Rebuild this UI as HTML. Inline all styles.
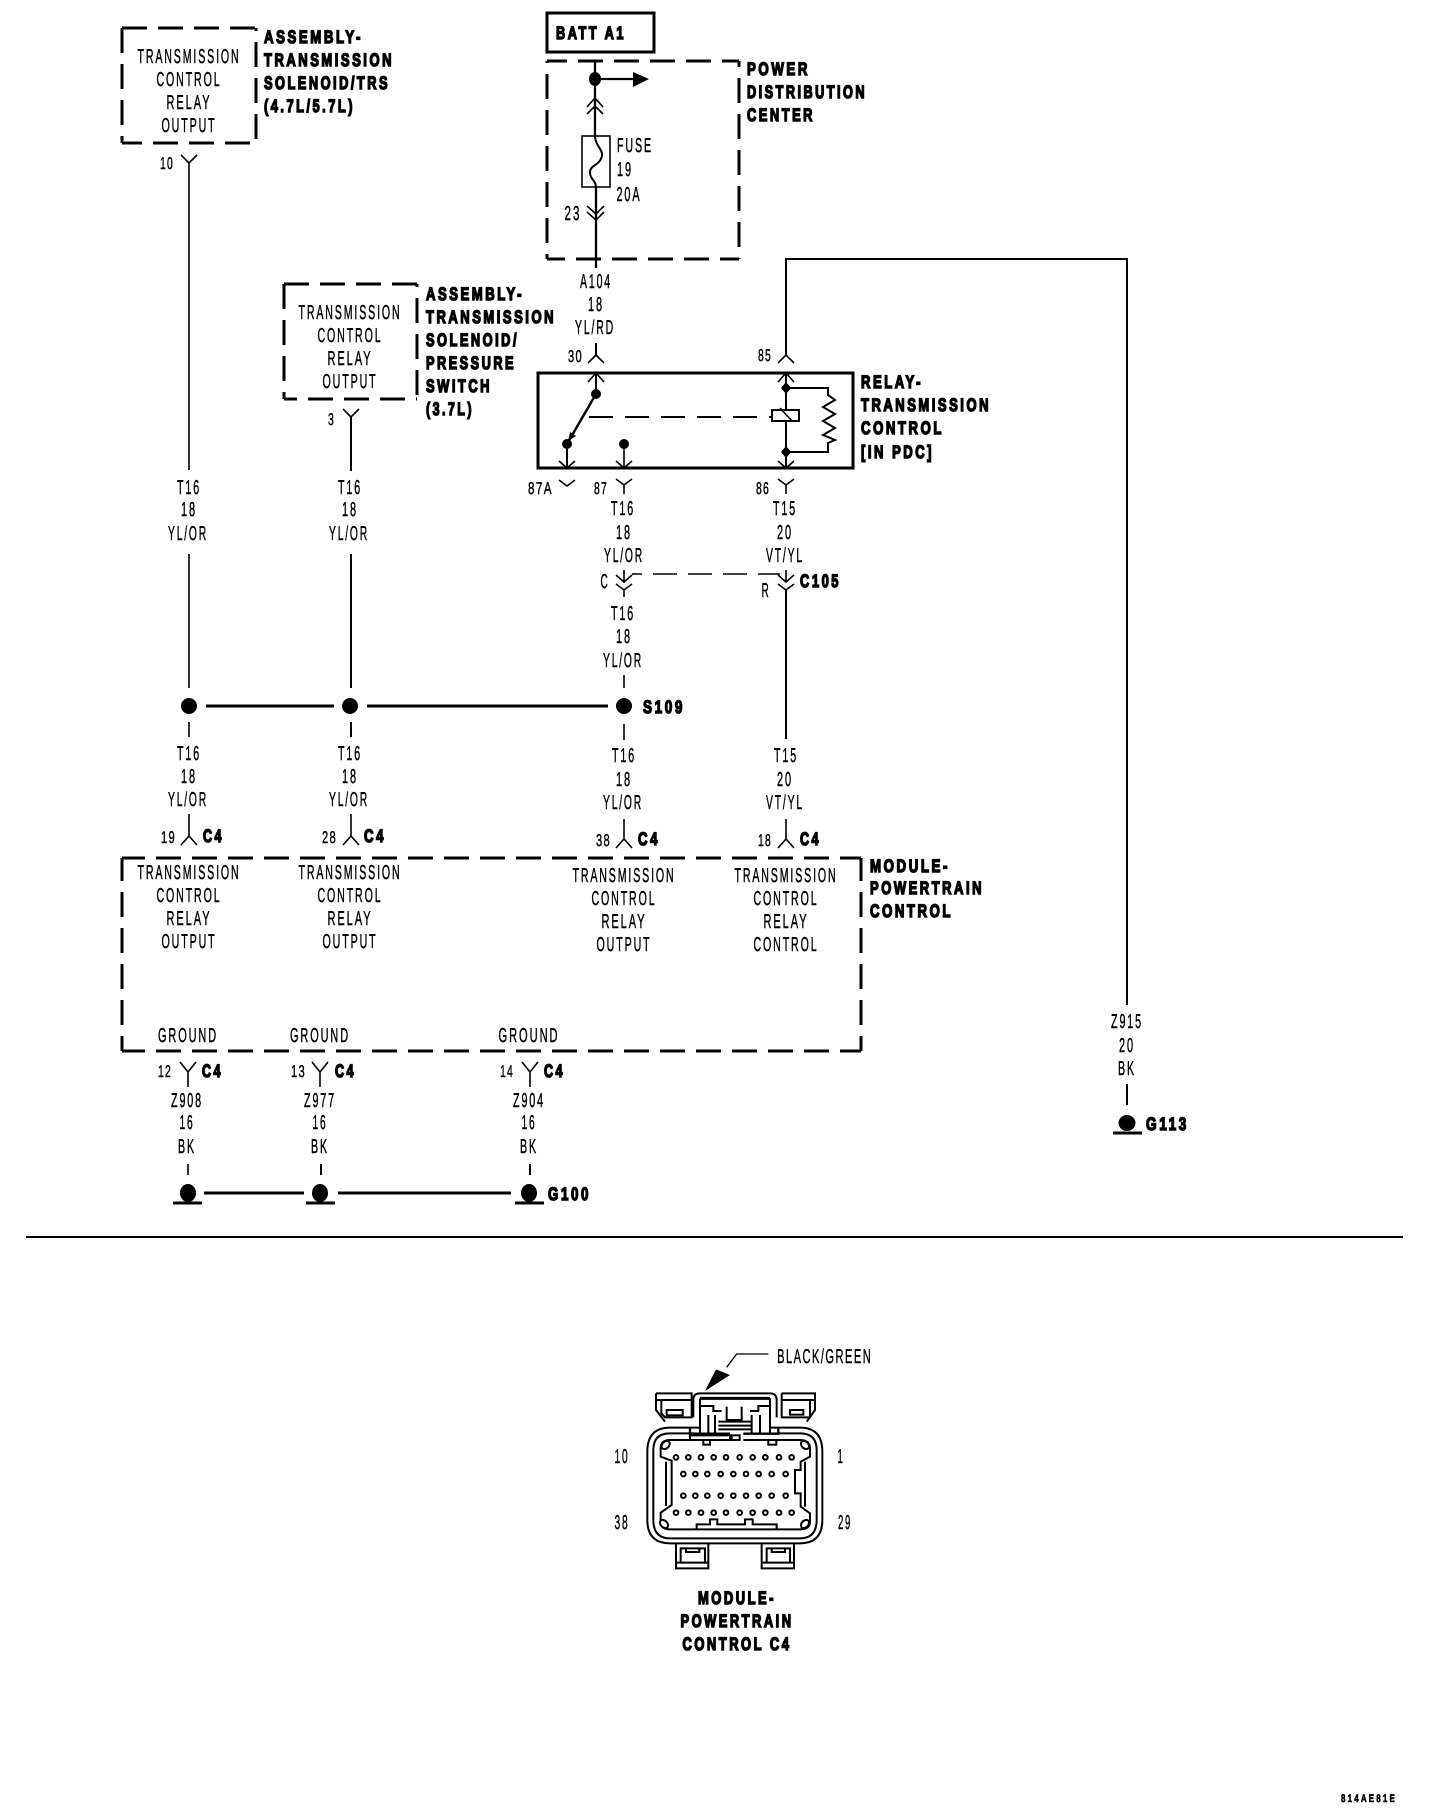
<!DOCTYPE html>
<html><head><meta charset="utf-8"><style>
html,body{margin:0;padding:0;background:#fff}
svg{display:block}
text{font-family:"Liberation Sans",sans-serif;fill:#000;text-rendering:geometricPrecision}
.t{font-size:20px;text-anchor:middle;stroke:#000;stroke-width:.45;letter-spacing:3.5px;transform:translateX(1px)}
.s{font-size:17px;text-anchor:start;stroke:#000;stroke-width:.45;letter-spacing:2px}
.b{font-size:18px;font-weight:bold;stroke:#000;stroke-width:1.5;letter-spacing:3.5px}
.w{fill:none;stroke:#000;stroke-width:2}
.k{fill:none;stroke:#000;stroke-width:3}
.d{fill:none;stroke:#000;stroke-width:3;stroke-dasharray:25 11}
.c{fill:none;stroke:#000;stroke-width:1.6}
.p{fill:none;stroke:#000;stroke-width:6}
.f{fill:#000}
</style></head><body>
<svg width="1456" height="1810" viewBox="0 0 1456 1810" xmlns="http://www.w3.org/2000/svg">
<rect width="1456" height="1810" fill="#fff"/>

<!-- dashed boxes -->
<g>
<path class="d" d="M122 28H256"/><path class="d" d="M122 28V143"/><path class="d" style="stroke-dashoffset:22" d="M256 28V143"/><path class="d" style="stroke-dashoffset:5" d="M122 143H256"/>
<path class="d" d="M284 284H417"/><path class="d" d="M284 284V399"/><path class="d" style="stroke-dashoffset:22" d="M417 284V399"/><path class="d" style="stroke-dashoffset:12" d="M284 399H417"/>
<path class="d" style="stroke-dashoffset:5" d="M547 61H739"/><path class="d" style="stroke-dashoffset:23" d="M547 61V259"/><path class="d" style="stroke-dashoffset:19" d="M739 61V259"/><path class="d" style="stroke-dashoffset:7" d="M547 259H739"/>
<path class="d" style="stroke-dashoffset:2" d="M122 858H861"/><path class="d" style="stroke-dashoffset:2" d="M122 858V1051"/><path class="d" style="stroke-dashoffset:2" d="M861 858V1051"/><path class="d" style="stroke-dashoffset:2" d="M122 1051H861"/>
</g>

<!-- BATT -->
<rect class="k" x="547" y="13" width="107" height="39"/>
<text class="b" x="556" y="39" textLength="70" lengthAdjust="spacingAndGlyphs">BATT A1</text>

<!-- Box 1 text -->
<text class="t" x="188" y="63" textLength="103" lengthAdjust="spacingAndGlyphs">TRANSMISSION</text>
<text class="t" x="188" y="86" textLength="65" lengthAdjust="spacingAndGlyphs">CONTROL</text>
<text class="t" x="188" y="109" textLength="45" lengthAdjust="spacingAndGlyphs">RELAY</text>
<text class="t" x="188" y="132" textLength="55" lengthAdjust="spacingAndGlyphs">OUTPUT</text>
<text class="b" x="264" y="43" textLength="99" lengthAdjust="spacingAndGlyphs">ASSEMBLY-</text>
<text class="b" x="264" y="66" textLength="130" lengthAdjust="spacingAndGlyphs">TRANSMISSION</text>
<text class="b" x="264" y="89" textLength="126" lengthAdjust="spacingAndGlyphs">SOLENOID/TRS</text>
<text class="b" x="264" y="112" textLength="91" lengthAdjust="spacingAndGlyphs">(4.7L/5.7L)</text>

<!-- Box 2 text -->
<text class="t" x="349" y="319" textLength="103" lengthAdjust="spacingAndGlyphs">TRANSMISSION</text>
<text class="t" x="349" y="342" textLength="65" lengthAdjust="spacingAndGlyphs">CONTROL</text>
<text class="t" x="349" y="365" textLength="45" lengthAdjust="spacingAndGlyphs">RELAY</text>
<text class="t" x="349" y="388" textLength="55" lengthAdjust="spacingAndGlyphs">OUTPUT</text>
<text class="b" x="426" y="300" textLength="98" lengthAdjust="spacingAndGlyphs">ASSEMBLY-</text>
<text class="b" x="426" y="323" textLength="130" lengthAdjust="spacingAndGlyphs">TRANSMISSION</text>
<text class="b" x="426" y="346" textLength="93" lengthAdjust="spacingAndGlyphs">SOLENOID/</text>
<text class="b" x="426" y="369" textLength="90" lengthAdjust="spacingAndGlyphs">PRESSURE</text>
<text class="b" x="426" y="392" textLength="66" lengthAdjust="spacingAndGlyphs">SWITCH</text>
<text class="b" x="426" y="415" textLength="48" lengthAdjust="spacingAndGlyphs">(3.7L)</text>

<!-- PDC -->
<text class="b" x="747" y="75" textLength="63" lengthAdjust="spacingAndGlyphs">POWER</text>
<text class="b" x="747" y="98" textLength="120" lengthAdjust="spacingAndGlyphs">DISTRIBUTION</text>
<text class="b" x="747" y="121" textLength="68" lengthAdjust="spacingAndGlyphs">CENTER</text>
<path class="k" d="M595 61V136M596 187V268M595 79H635" style="stroke-width:2.3"/>
<ellipse class="f" cx="595" cy="79" rx="6" ry="7"/>
<polygon class="f" points="633,72 649,79 633,87"/>
<polyline class="c" points="587,107 595,98 603,107"/>
<polyline class="c" points="587,114 595,106 603,114"/>
<rect x="582" y="136" width="28" height="51" fill="#fff" stroke="#000" stroke-width="1.6"/>
<path class="w" d="M595 136C595 145 603 150 602 155C601 165 590 165 590 172C590 180 596 180 596 187"/>
<polyline class="c" points="587,206 596,214 604,206"/>
<polyline class="c" points="587,212 596,220 604,212"/>
<text class="t" x="634" y="152" textLength="36" lengthAdjust="spacingAndGlyphs">FUSE</text>
<text class="t" x="624" y="176" textLength="16" lengthAdjust="spacingAndGlyphs">19</text>
<text class="t" x="628" y="201" textLength="25" lengthAdjust="spacingAndGlyphs">20A</text>
<text class="t" x="572" y="220" textLength="17" lengthAdjust="spacingAndGlyphs">23</text>
<text class="t" x="595" y="288" textLength="32" lengthAdjust="spacingAndGlyphs">A104</text>
<text class="t" x="595" y="311" textLength="16" lengthAdjust="spacingAndGlyphs">18</text>
<text class="t" x="594" y="334" textLength="40" lengthAdjust="spacingAndGlyphs">YL/RD</text>

<!-- wire 85 / G113 -->
<path class="w" d="M786 355V259H1127V1005M1127 1084V1105"/>
<text class="t" x="1126" y="1028" textLength="32" lengthAdjust="spacingAndGlyphs">Z915</text>
<text class="t" x="1126" y="1052" textLength="16" lengthAdjust="spacingAndGlyphs">20</text>
<text class="t" x="1126" y="1075" textLength="18" lengthAdjust="spacingAndGlyphs">BK</text>
<ellipse class="f" cx="1127" cy="1123" rx="8.5" ry="8"/>
<path class="k" d="M1113 1133H1142"/>
<text class="b" x="1146" y="1130" textLength="43" lengthAdjust="spacingAndGlyphs">G113</text>

<!-- relay -->
<path class="w" d="M596 343V355"/>
<polyline class="c" points="588,363 596,355 604,363"/>
<polyline class="c" points="778,363 786,355 794,363"/>
<text class="s" x="568" y="362" textLength="15" lengthAdjust="spacingAndGlyphs">30</text>
<text class="s" x="758" y="361" textLength="14" lengthAdjust="spacingAndGlyphs">85</text>
<rect class="k" x="538" y="373" width="315" height="95"/>
<path class="w" d="M596 373V394"/>
<polyline class="c" points="588,382 596,373 604,382"/>
<circle class="f" cx="596" cy="394" r="5"/>
<path class="k" style="stroke-width:2.4" d="M596 394L567 444"/>
<polygon class="f" points="568,441 570,432 576,436"/>
<circle class="f" cx="567" cy="444" r="5"/>
<path class="w" d="M567 444V468"/>
<polyline class="c" points="559,461 567,468 575,461"/>
<circle class="f" cx="624" cy="444" r="5"/>
<path class="c" d="M624 444V468"/>
<polyline class="c" points="616,461 624,468 632,461"/>
<path class="w" d="M583 417H772" stroke-dasharray="24 12" stroke-dashoffset="-6"/>
<path class="w" d="M786 373V468M786 388H828V395L835 400L823 407L835 414L823 421L835 428L823 435L835 440L828 443V452H786"/>
<polyline class="c" points="778,382 786,373 794,382"/>
<polyline class="c" points="778,461 786,468 794,461"/>
<polygon class="f" points="786,382 791,388 786,394 781,388"/>
<polygon class="f" points="786,446 791,452 786,458 781,452"/>
<rect x="772" y="410" width="27" height="11" fill="#fff" stroke="#000" stroke-width="2"/>
<path class="c" d="M780 408L792 421"/>
<text class="b" x="861" y="388" textLength="62" lengthAdjust="spacingAndGlyphs">RELAY-</text>
<text class="b" x="861" y="411" textLength="130" lengthAdjust="spacingAndGlyphs">TRANSMISSION</text>
<text class="b" x="861" y="434" textLength="83" lengthAdjust="spacingAndGlyphs">CONTROL</text>
<text class="b" x="861" y="458" textLength="73" lengthAdjust="spacingAndGlyphs">[IN PDC]</text>

<!-- below relay -->
<polyline class="c" points="559,480 567,486 575,480"/>
<polyline class="c" points="616,479 624,485 632,479"/>
<path class="c" d="M624 485V494"/>
<polyline class="c" points="778,479 786,485 794,479"/>
<path class="c" d="M786 485V494"/>
<text class="s" x="528" y="494" textLength="25" lengthAdjust="spacingAndGlyphs">87A</text>
<text class="s" x="594" y="494" textLength="14" lengthAdjust="spacingAndGlyphs">87</text>
<text class="s" x="756" y="494" textLength="14" lengthAdjust="spacingAndGlyphs">86</text>
<text class="t" x="622" y="515" textLength="24" lengthAdjust="spacingAndGlyphs">T16</text>
<text class="t" x="623" y="539" textLength="16" lengthAdjust="spacingAndGlyphs">18</text>
<text class="t" x="623" y="562" textLength="40" lengthAdjust="spacingAndGlyphs">YL/OR</text>
<text class="t" x="784" y="515" textLength="24" lengthAdjust="spacingAndGlyphs">T15</text>
<text class="t" x="784" y="539" textLength="16" lengthAdjust="spacingAndGlyphs">20</text>
<text class="t" x="784" y="562" textLength="38" lengthAdjust="spacingAndGlyphs">VT/YL</text>

<!-- C105 -->
<path class="c" d="M624 570V583"/>
<polyline class="c" points="616,575 624,582 632,575"/>
<polyline class="c" points="616,584 624,590 632,584"/>
<path class="c" d="M624 590V597"/>
<path class="c" d="M632 574H780" stroke-dasharray="24 11" stroke-dashoffset="14"/>
<path class="c" d="M786 570V582"/>
<polyline class="c" points="778,575 786,582 794,575"/>
<polyline class="c" points="778,584 786,590 794,584"/>
<path class="w" d="M786 590V739"/>
<text class="t" x="604" y="588" textLength="9" lengthAdjust="spacingAndGlyphs">C</text>
<text class="t" x="765" y="597" textLength="9" lengthAdjust="spacingAndGlyphs">R</text>
<text class="b" x="800" y="587" textLength="41" lengthAdjust="spacingAndGlyphs">C105</text>
<text class="t" x="622" y="620" textLength="24" lengthAdjust="spacingAndGlyphs">T16</text>
<text class="t" x="623" y="643" textLength="16" lengthAdjust="spacingAndGlyphs">18</text>
<text class="t" x="622" y="667" textLength="40" lengthAdjust="spacingAndGlyphs">YL/OR</text>
<path class="c" d="M624 675V688"/>

<!-- left wires -->
<polyline class="c" points="181,155 189,163 197,155"/>
<path class="c" d="M189 163V470M189 554V688"/>
<text class="s" x="160" y="169" textLength="14" lengthAdjust="spacingAndGlyphs">10</text>
<polyline class="c" points="343,409 351,417 359,409"/>
<path class="w" d="M351 417V471M351 554V688"/>
<text class="s" x="328" y="425" textLength="7" lengthAdjust="spacingAndGlyphs">3</text>
<g>
<text class="t" x="188" y="494" textLength="24" lengthAdjust="spacingAndGlyphs">T16</text>
<text class="t" x="188" y="516" textLength="16" lengthAdjust="spacingAndGlyphs">18</text>
<text class="t" x="187" y="540" textLength="40" lengthAdjust="spacingAndGlyphs">YL/OR</text>
<text class="t" x="349" y="494" textLength="24" lengthAdjust="spacingAndGlyphs">T16</text>
<text class="t" x="349" y="516" textLength="16" lengthAdjust="spacingAndGlyphs">18</text>
<text class="t" x="348" y="540" textLength="40" lengthAdjust="spacingAndGlyphs">YL/OR</text>
</g>

<!-- S109 -->
<circle class="f" cx="189" cy="706" r="8"/>
<circle class="f" cx="350" cy="706" r="8"/>
<circle class="f" cx="624" cy="706" r="8"/>
<path class="k" d="M206 706H334M367 706H608"/>
<text class="b" x="643" y="713" textLength="42" lengthAdjust="spacingAndGlyphs">S109</text>
<path class="c" d="M189 722V737"/>
<path class="w" d="M351 722V737"/>
<path class="c" d="M624 724V740"/>

<text class="t" x="188" y="760" textLength="24" lengthAdjust="spacingAndGlyphs">T16</text>
<text class="t" x="188" y="783" textLength="16" lengthAdjust="spacingAndGlyphs">18</text>
<text class="t" x="187" y="806" textLength="40" lengthAdjust="spacingAndGlyphs">YL/OR</text>
<text class="t" x="349" y="760" textLength="24" lengthAdjust="spacingAndGlyphs">T16</text>
<text class="t" x="349" y="783" textLength="16" lengthAdjust="spacingAndGlyphs">18</text>
<text class="t" x="348" y="806" textLength="40" lengthAdjust="spacingAndGlyphs">YL/OR</text>
<text class="t" x="623" y="762" textLength="24" lengthAdjust="spacingAndGlyphs">T16</text>
<text class="t" x="623" y="786" textLength="16" lengthAdjust="spacingAndGlyphs">18</text>
<text class="t" x="622" y="809" textLength="40" lengthAdjust="spacingAndGlyphs">YL/OR</text>
<text class="t" x="785" y="762" textLength="24" lengthAdjust="spacingAndGlyphs">T15</text>
<text class="t" x="784" y="786" textLength="16" lengthAdjust="spacingAndGlyphs">20</text>
<text class="t" x="784" y="809" textLength="38" lengthAdjust="spacingAndGlyphs">VT/YL</text>

<!-- C4 upper -->
<path class="c" d="M189 814V836M181 845L189 836L197 845"/>
<path class="c" d="M351 814V836M343 845L351 836L359 845"/>
<path class="c" d="M624 819V839M616 848L624 839L632 848"/>
<path class="c" d="M786 819V839M778 848L786 839L794 848"/>
<text class="s" x="161" y="843" textLength="15" lengthAdjust="spacingAndGlyphs">19</text>
<text class="b" x="203" y="842" textLength="21" lengthAdjust="spacingAndGlyphs">C4</text>
<text class="s" x="322" y="843" textLength="15" lengthAdjust="spacingAndGlyphs">28</text>
<text class="b" x="364" y="842" textLength="22" lengthAdjust="spacingAndGlyphs">C4</text>
<text class="s" x="596" y="846" textLength="15" lengthAdjust="spacingAndGlyphs">38</text>
<text class="b" x="638" y="845" textLength="22" lengthAdjust="spacingAndGlyphs">C4</text>
<text class="s" x="758" y="846" textLength="14" lengthAdjust="spacingAndGlyphs">18</text>
<text class="b" x="800" y="845" textLength="21" lengthAdjust="spacingAndGlyphs">C4</text>

<!-- PCM texts -->
<text class="t" x="188" y="879" textLength="103" lengthAdjust="spacingAndGlyphs">TRANSMISSION</text>
<text class="t" x="188" y="902" textLength="65" lengthAdjust="spacingAndGlyphs">CONTROL</text>
<text class="t" x="188" y="925" textLength="45" lengthAdjust="spacingAndGlyphs">RELAY</text>
<text class="t" x="188" y="948" textLength="55" lengthAdjust="spacingAndGlyphs">OUTPUT</text>
<text class="t" x="349" y="879" textLength="103" lengthAdjust="spacingAndGlyphs">TRANSMISSION</text>
<text class="t" x="349" y="902" textLength="65" lengthAdjust="spacingAndGlyphs">CONTROL</text>
<text class="t" x="349" y="925" textLength="45" lengthAdjust="spacingAndGlyphs">RELAY</text>
<text class="t" x="349" y="948" textLength="55" lengthAdjust="spacingAndGlyphs">OUTPUT</text>
<text class="t" x="623" y="882" textLength="103" lengthAdjust="spacingAndGlyphs">TRANSMISSION</text>
<text class="t" x="623" y="905" textLength="65" lengthAdjust="spacingAndGlyphs">CONTROL</text>
<text class="t" x="623" y="928" textLength="45" lengthAdjust="spacingAndGlyphs">RELAY</text>
<text class="t" x="623" y="951" textLength="55" lengthAdjust="spacingAndGlyphs">OUTPUT</text>
<text class="t" x="785" y="882" textLength="103" lengthAdjust="spacingAndGlyphs">TRANSMISSION</text>
<text class="t" x="785" y="905" textLength="65" lengthAdjust="spacingAndGlyphs">CONTROL</text>
<text class="t" x="785" y="928" textLength="45" lengthAdjust="spacingAndGlyphs">RELAY</text>
<text class="t" x="785" y="951" textLength="65" lengthAdjust="spacingAndGlyphs">CONTROL</text>
<text class="b" x="870" y="872" textLength="80" lengthAdjust="spacingAndGlyphs">MODULE-</text>
<text class="b" x="870" y="894" textLength="114" lengthAdjust="spacingAndGlyphs">POWERTRAIN</text>
<text class="b" x="870" y="917" textLength="83" lengthAdjust="spacingAndGlyphs">CONTROL</text>
<text class="t" x="187" y="1042" textLength="60" lengthAdjust="spacingAndGlyphs">GROUND</text>
<text class="t" x="319" y="1042" textLength="60" lengthAdjust="spacingAndGlyphs">GROUND</text>
<text class="t" x="528" y="1042" textLength="61" lengthAdjust="spacingAndGlyphs">GROUND</text>

<!-- C4 lower -->
<path class="c" d="M180 1062L188 1072L196 1062M188 1072V1087"/>
<path class="c" d="M312 1062L320 1072L328 1062M320 1072V1087"/>
<path class="c" d="M522 1062L530 1072L538 1062M530 1072V1087"/>
<text class="s" x="158" y="1077" textLength="14" lengthAdjust="spacingAndGlyphs">12</text>
<text class="b" x="202" y="1077" textLength="21" lengthAdjust="spacingAndGlyphs">C4</text>
<text class="s" x="291" y="1077" textLength="15" lengthAdjust="spacingAndGlyphs">13</text>
<text class="b" x="335" y="1077" textLength="21" lengthAdjust="spacingAndGlyphs">C4</text>
<text class="s" x="500" y="1077" textLength="14" lengthAdjust="spacingAndGlyphs">14</text>
<text class="b" x="544" y="1077" textLength="21" lengthAdjust="spacingAndGlyphs">C4</text>
<text class="t" x="186" y="1107" textLength="32" lengthAdjust="spacingAndGlyphs">Z908</text>
<text class="t" x="186" y="1129" textLength="15" lengthAdjust="spacingAndGlyphs">16</text>
<text class="t" x="186" y="1153" textLength="18" lengthAdjust="spacingAndGlyphs">BK</text>
<text class="t" x="319" y="1107" textLength="32" lengthAdjust="spacingAndGlyphs">Z977</text>
<text class="t" x="319" y="1129" textLength="15" lengthAdjust="spacingAndGlyphs">16</text>
<text class="t" x="319" y="1153" textLength="18" lengthAdjust="spacingAndGlyphs">BK</text>
<text class="t" x="528" y="1107" textLength="32" lengthAdjust="spacingAndGlyphs">Z904</text>
<text class="t" x="528" y="1129" textLength="15" lengthAdjust="spacingAndGlyphs">16</text>
<text class="t" x="528" y="1153" textLength="18" lengthAdjust="spacingAndGlyphs">BK</text>
<path class="c" d="M188 1164V1175"/>
<path class="w" d="M321 1164V1175M530 1164V1175"/>
<ellipse class="f" cx="188" cy="1193" rx="8" ry="9"/>
<ellipse class="f" cx="320" cy="1193" rx="8" ry="9"/>
<ellipse class="f" cx="529" cy="1193" rx="8" ry="9"/>
<path class="k" d="M173 1203H202M306 1203H335M515 1203H544M204 1193H304M338 1193H511"/>
<text class="b" x="548" y="1200" textLength="43" lengthAdjust="spacingAndGlyphs">G100</text>

<!-- divider -->
<path class="w" d="M26 1237H1403"/>

<!-- connector -->
<g transform="translate(590 1330) scale(.33333)">
<path d="M535 72H440L410 112" fill="none" stroke="#000" stroke-width="4"/>
<polygon class="f" points="345,183 378,118 420,135"/>
<text x="704" y="99" style="font-size:60px;text-anchor:middle;stroke:#000;stroke-width:1.2;letter-spacing:8px" textLength="285" lengthAdjust="spacingAndGlyphs">BLACK/GREEN</text>
<g fill="none" stroke="#000" stroke-width="6">
<!-- ears -->
<path d="M198 190H305V262H225L214 250V210M198 190V240L225 275M198 210H305"/>
<path d="M575 190H675V240L650 275M575 190V262H660V210M575 210H675"/>
<rect x="230" y="240" width="48" height="16"/>
<rect x="600" y="240" width="40" height="14"/>
<!-- tower -->
<path d="M310 262V208Q310 190 330 190H540Q560 190 560 210V262"/>
<path d="M330 205H540" stroke-width="9"/>
<path d="M330 205V310M540 205V310M330 228H370V243H395M410 230V270H455V230M540 228H505V243H480M355 255V310M375 255V310M485 255V310M510 255V310M385 275H485M385 287H485M385 298H485"/>
<path d="M300 293V311H420M460 311H565V293" stroke-width="7"/>
<rect x="425" y="316" width="24" height="14"/>
<path d="M300 316H420V330H300ZM460 330H565"/>
<rect x="340" y="330" width="20" height="14"/><rect x="535" y="330" width="24" height="14"/>
<!-- body -->
<path d="M330 293H240Q172 293 172 365V570Q172 640 240 640H630Q697 640 697 570V365Q697 293 630 293H540"/>
<path d="M315 310H240Q190 310 190 360V570Q190 625 240 625H630Q680 625 680 570V360Q680 310 630 310H560"/>
<!-- cavity -->
<path d="M300 330H240Q212 330 212 355V380L245 392V525L212 548V575Q212 598 240 598H630Q660 598 660 575V550L632 530V490H615V420H632V395L660 380V355Q660 330 630 330H560"/>
<path d="M228 395V528M645 395V530"/>
<path d="M320 598V583H360V568H382V583H465V568H488V583H560V598"/>
<ellipse cx="227" cy="345" rx="10" ry="14" fill="#fff" transform="rotate(45 227 345)"/>
<ellipse cx="645" cy="345" rx="10" ry="14" fill="#fff" transform="rotate(-45 645 345)"/>
<ellipse cx="222" cy="582" rx="10" ry="14" fill="#fff" transform="rotate(-45 222 582)"/>
<ellipse cx="645" cy="582" rx="10" ry="14" fill="#fff" transform="rotate(45 645 582)"/>
<!-- bottom tabs -->
<path d="M258 642V715H355V642M272 698V655H345V698M288 655V666H328V655M258 698H355"/>
<path d="M515 642V715H612V642M530 698V655H600V698M545 655V666H585V655M515 698H612"/>
</g>
<g class="p">
<circle cx="258" cy="382" r="7"/><circle cx="295" cy="382" r="7"/><circle cx="333" cy="382" r="7"/><circle cx="371" cy="382" r="7"/><circle cx="408" cy="382" r="7"/><circle cx="449" cy="382" r="7"/><circle cx="488" cy="382" r="7"/><circle cx="526" cy="382" r="7"/><circle cx="567" cy="382" r="7"/><circle cx="605" cy="382" r="7"/>
<circle cx="280" cy="432" r="7"/><circle cx="316" cy="432" r="7"/><circle cx="352" cy="432" r="7"/><circle cx="392" cy="432" r="7"/><circle cx="430" cy="432" r="7"/><circle cx="468" cy="432" r="7"/><circle cx="506" cy="432" r="7"/><circle cx="545" cy="432" r="7"/><circle cx="587" cy="432" r="7"/>
<circle cx="280" cy="497" r="7"/><circle cx="316" cy="497" r="7"/><circle cx="352" cy="497" r="7"/><circle cx="392" cy="497" r="7"/><circle cx="430" cy="497" r="7"/><circle cx="468" cy="497" r="7"/><circle cx="506" cy="497" r="7"/><circle cx="545" cy="497" r="7"/><circle cx="587" cy="497" r="7"/>
<circle cx="258" cy="548" r="7"/><circle cx="295" cy="548" r="7"/><circle cx="333" cy="548" r="7"/><circle cx="371" cy="548" r="7"/><circle cx="408" cy="548" r="7"/><circle cx="449" cy="548" r="7"/><circle cx="488" cy="548" r="7"/><circle cx="526" cy="548" r="7"/><circle cx="567" cy="548" r="7"/><circle cx="605" cy="548" r="7"/>
</g>
</g>
<text class="t" x="621" y="1463" textLength="15" lengthAdjust="spacingAndGlyphs">10</text>
<text class="t" x="840" y="1463" textLength="7" lengthAdjust="spacingAndGlyphs">1</text>
<text class="t" x="621" y="1529" textLength="15" lengthAdjust="spacingAndGlyphs">38</text>
<text class="t" x="844" y="1529" textLength="14" lengthAdjust="spacingAndGlyphs">29</text>
<text class="b" x="737" y="1604" text-anchor="middle" textLength="78" lengthAdjust="spacingAndGlyphs">MODULE-</text>
<text class="b" x="737" y="1627" text-anchor="middle" textLength="113" lengthAdjust="spacingAndGlyphs">POWERTRAIN</text>
<text class="b" x="737" y="1650" text-anchor="middle" textLength="109" lengthAdjust="spacingAndGlyphs">CONTROL C4</text>
<text x="1341" y="1802" style="font-size:11px;font-weight:bold;stroke:#000;stroke-width:.6;letter-spacing:3px" textLength="56" lengthAdjust="spacingAndGlyphs">814AE81E</text>
</svg>
</body></html>
